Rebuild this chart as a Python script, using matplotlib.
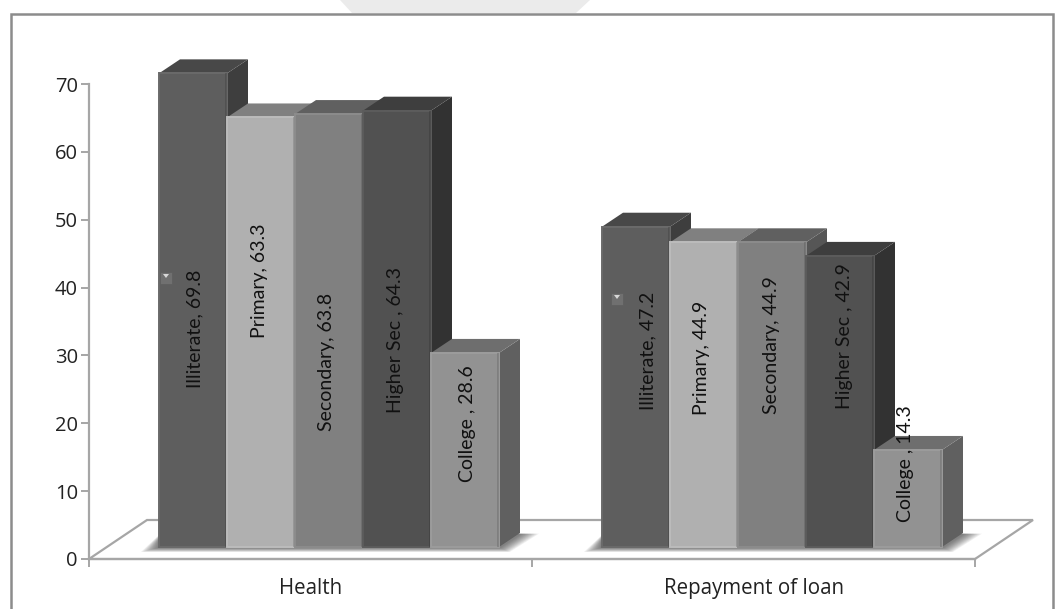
import matplotlib
matplotlib.use('Agg')
import matplotlib.pyplot as plt
from matplotlib.patches import Polygon, Rectangle

plt.rcParams['font.family'] = ['Lato', 'DejaVu Sans']

groups = ['Health', 'Repayment of loan']
levels = ['Illiterate', 'Primary', 'Secondary', 'Higher Sec ', 'College ']
health = [69.8, 63.3, 63.8, 64.3, 28.6]
repayment = [47.2, 44.9, 44.9, 42.9, 14.3]
y_ticks = [0, 10, 20, 30, 40, 50, 60, 70]

front_colors = ['#5e5e5e', '#b0b0b0', '#808080', '#515151', '#929292']
top_colors = ['#484848', '#808080', '#606060', '#3e3e3e', '#6e6e6e']
side_colors = ['#3e3e3e', '#707070', '#565656', '#323232', '#606060']
edge_colors = ['#6a6a6a', '#bcbcbc', '#8c8c8c', '#5c5c5c', '#9c9c9c']

# rotated label placement: centre height in axis units, sideways nudge in pixels
health_label_y = [33.9, 41.0, 29.0, 32.3, 19.9]
repayment_label_y = [30.7, 29.7, 31.5, 32.9, 14.0]
health_label_dx = [2, -1, -2, -2, 2]
repayment_label_dx = [12, -2, 0, 4, -2]

W, H = 1063, 609
LEFT, RIGHT, TOP, BOTTOM = 89, 975, 84, 559
PX_X = (RIGHT - LEFT) / 2.0
PX_Y = (BOTTOM - TOP) / 70.0

BAR_W = 68 / PX_X
DX = 21 / PX_X
DY = 14 / PX_Y
BASE = 12 / PX_Y
STARTS = [(159 - LEFT) / PX_X, (602 - LEFT) / PX_X]


def draw_floor(ax):
    dx = 58 / PX_X
    dy = 39 / PX_Y
    floor = Polygon([(0, 0), (2, 0), (2 + dx, dy), (dx, dy)], closed=True, fc='white',
                    ec='#a6a6a6', lw=1.6, clip_on=False, zorder=1)
    ax.add_patch(floor)


def draw_shadow(ax, start):
    # stacked translucent polygons give the soft drop shadow on the floor
    x0 = start
    x1 = start + 5 * BAR_W
    n = 12
    for i in range(n):
        t = i / (n - 1)
        pad = (18 - 16 * t) / PX_X
        low = BASE - (5 - 4 * t) / PX_Y
        pts = [(x0 - pad, low), (x1 + pad * 0.6, low), (x1 + DX * 1.9 - t * DX * 0.8, BASE + DY * 0.95),
               (x0 + DX, BASE + DY * 0.95), (x0, BASE + 12 / PX_Y * (1 - t * 0.3))]
        ax.add_patch(Polygon(pts, closed=True, fc='#303030', ec='none', alpha=0.07,
                             clip_on=False, zorder=2))


def draw_group(ax, start, values):
    for i, v in enumerate(values):
        x = start + i * BAR_W
        z = 3 + i * 0.1
        top = BASE + v
        side = Polygon([(x + BAR_W, BASE), (x + BAR_W + DX, BASE + DY), (x + BAR_W + DX, top + DY), (x + BAR_W, top)],
                       closed=True, fc=side_colors[i], ec='none', clip_on=False, zorder=z)
        lid = Polygon([(x, top), (x + DX, top + DY), (x + BAR_W + DX, top + DY), (x + BAR_W, top)],
                      closed=True, fc=top_colors[i], ec='none', clip_on=False, zorder=z)
        ax.add_patch(side)
        ax.add_patch(lid)
        ax.bar(x, v, width=BAR_W, bottom=BASE, align='edge', color=front_colors[i],
               edgecolor=edge_colors[i], linewidth=1.4, clip_on=False, zorder=z + 0.01)
        # darker seam down the right side of the front face
        ax.vlines(x + BAR_W - 1.2 / PX_X, BASE, top, color=side_colors[i], alpha=0.45, lw=1.2,
                  clip_on=False, zorder=z + 0.02)


def draw_labels(ax, start, values, label_y, label_dx):
    for i, v in enumerate(values):
        x = start + (i + 0.5) * BAR_W + label_dx[i] / PX_X
        ax.text(x, label_y[i], f'{levels[i]}, {v}', rotation=90, ha='center', va='center',
                fontsize=14, color='#111111', zorder=10, clip_on=False)


def draw_key(ax, px, py):
    # tiny legend key left inside the first bar's label
    s = 12
    fig_tr = ax.figure.transFigure
    ax.figure.add_artist(Rectangle((px / W, 1 - (py + s) / H), s / W, s / H, transform=fig_tr,
                                   fc='#707070', ec='#5f5f5f', lw=0.6, zorder=11))
    ax.figure.add_artist(Polygon([((px + 3) / W, 1 - (py + 2) / H), ((px + s - 3) / W, 1 - (py + 2) / H),
                                  ((px + s / 2) / W, 1 - (py + 6) / H)], closed=True, transform=fig_tr,
                                 fc='#d8d8d8', ec='none', zorder=12))


fig = plt.figure(figsize=(W / 100, H / 100), dpi=100)
fig.add_artist(Polygon([(340 / W, 1), (352 / W, 1 - 13 / H), (576 / W, 1 - 13 / H), (590 / W, 1)], closed=True,
                       transform=fig.transFigure, fc='#ebebeb', ec='none', zorder=-2))
fig.add_artist(Rectangle((11 / W, -0.02), (1053 - 11) / W, 1.02 - 14 / H, transform=fig.transFigure,
                         fc='white', ec='#8c8c8c', lw=1.8, zorder=-1))

ax = fig.add_axes([LEFT / W, 1 - BOTTOM / H, (RIGHT - LEFT) / W, (BOTTOM - TOP) / H])
ax.patch.set_alpha(0)
ax.set_xlim(0, 2)
ax.set_ylim(0, 70)

draw_floor(ax)
for k, values in enumerate([health, repayment]):
    draw_shadow(ax, STARTS[k])
    draw_group(ax, STARTS[k], values)
draw_labels(ax, STARTS[0], health, health_label_y, health_label_dx)
draw_labels(ax, STARTS[1], repayment, repayment_label_y, repayment_label_dx)

draw_key(ax, 160, 272)
draw_key(ax, 611, 293)

for name in ['top', 'right']:
    ax.spines[name].set_visible(False)
for name in ['left', 'bottom']:
    ax.spines[name].set_color('#a6a6a6')
    ax.spines[name].set_linewidth(1.6)
    ax.spines[name].set_zorder(2)

ax.set_yticks(y_ticks)
ax.set_xticks([0, 1, 2], labels=['', '', ''])
ax.set_xticks([0.5, 1.5], labels=groups, minor=True)
ax.tick_params(axis='y', length=6, width=1.4, color='#a6a6a6', labelsize=14.5, labelcolor='#222222', pad=2)
ax.tick_params(axis='x', which='major', length=6, width=1.4, color='#a6a6a6')
ax.tick_params(axis='x', which='minor', length=0, labelsize=14.8, labelcolor='#222222', pad=14)
for t in ax.get_yticklabels() + ax.get_xticklabels(minor=True):
    t.set_fontfamily('Open Sans')

fig.savefig('out.png', dpi=100)
